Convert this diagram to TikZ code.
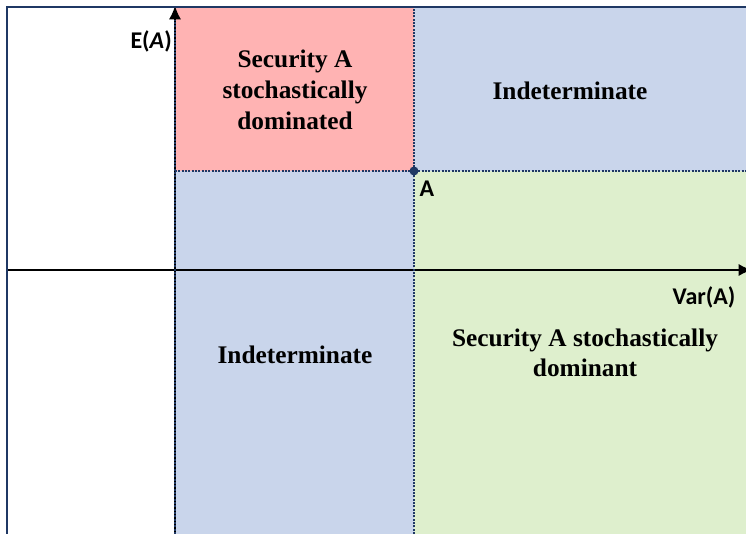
\documentclass[tikz,border=0pt]{standalone}
\usepackage{fontspec}
\setmainfont{Liberation Serif}
\newfontfamily\labelfont{Carlito}
\usetikzlibrary{positioning, arrows.meta}

\definecolor{dompink}{HTML}{FFB3B3}
\definecolor{indblue}{HTML}{C9D5EB}
\definecolor{domgreen}{HTML}{DEEFCD}
\definecolor{framenavy}{HTML}{1F3864}

\tikzset{
	border/.style={framenavy, line width=2pt, dash pattern=on 1.6pt off 0.9pt},
	zone/.style={font=\bfseries\fontsize{19}{23}\selectfont, align=center, inner sep=0pt},
	axislabel/.style={font=\labelfont\bfseries\fontsize{18}{21}\selectfont, inner sep=0pt},
	axis/.style={line width=1pt, -{Latex[length=10pt, width=9pt]}}
}

\begin{document}
\begin{tikzpicture}[x=0.75pt, y=-0.75pt]
	\useasboundingbox (0,0) rectangle (746,534);

	% corners of the four zones
	\coordinate (topleft) at (175,8);
	\coordinate (A) at (414,171);
	\coordinate (topright) at (746,8);
	\coordinate (botleft) at (175,534);
	\coordinate (botright) at (746,534);

	\fill[dompink] (topleft) rectangle (A);
	\fill[indblue] (A -| topleft) rectangle (botleft -| A);
	\fill[indblue] (topleft -| A) rectangle (topright |- A);
	\fill[domgreen] (A) rectangle (botright);

	% axes
	\coordinate (xstart) at (8,270);
	\coordinate (xend) at (752,270);
	\draw[axis] (xstart) -- (xend);
	\draw[axis] (botleft) -- (175,6);

	% dotted borders
	\draw[border] (botleft) -- (175,20);
	\draw[border] (botleft -| A) -- (topleft -| A);
	\draw[border] (A -| topleft) -- (topright |- A);

	% frame
	\draw[framenavy, line width=1.5pt] (7,540) -- (7,7) -- (750,7);

	\fill[framenavy] (A) circle (4.5);

	\node[zone] (dominated) at (295,90) {Security A\\stochastically\\dominated};
	\node[zone] (indetTop) at (570,91) {Indeterminate};
	\node[zone] (indetBot) at (295,355) {Indeterminate};
	\node[zone] (dominant) at (585,353) {Security A stochastically\\dominant};

	\node[axislabel, below right=7pt and 4pt of A] (pointA) {A};
	\node[axislabel, anchor=east] (ylabel) at (172,41) {E(\textit{A})};
	\node[axislabel] (xlabel) at (704,297) {Var(A)};
\end{tikzpicture}
\end{document}
